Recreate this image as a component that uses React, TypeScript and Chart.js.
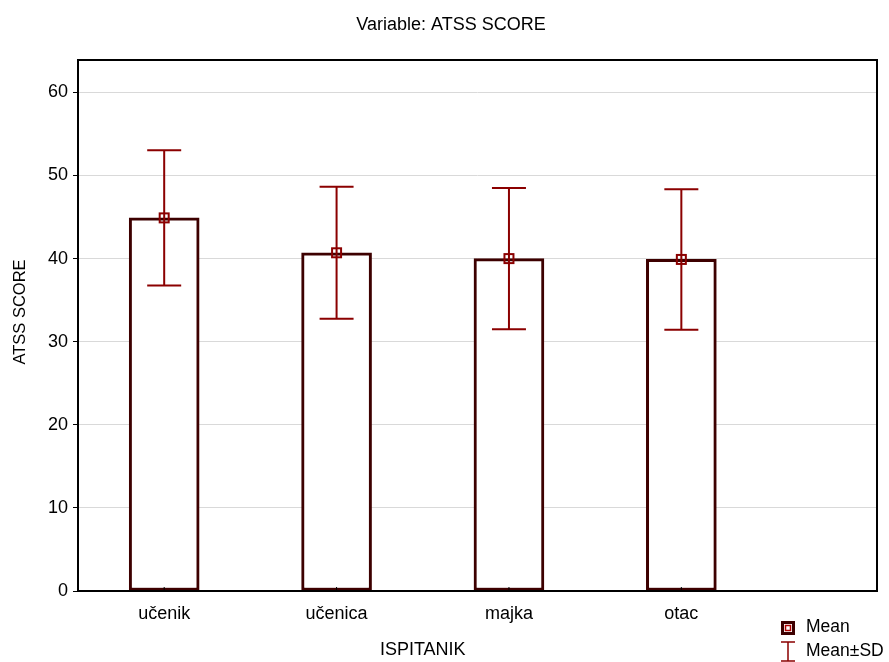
import React, { useEffect, useRef } from "react";
import { Chart, registerables } from "chart.js";

Chart.register(...registerables);

const categories = ["učenik", "učenica", "majka", "otac"];
const means = [44.9, 40.7, 40.0, 39.9];
const sds = [8.15, 7.95, 8.5, 8.45];
const yTicks = [0, 10, 20, 30, 40, 50, 60];

const chartTitle = "Variable: ATSS SCORE";
const xTitle = "ISPITANIK";
const yTitle = "ATSS SCORE";
const legendLabels = ["Mean", "Mean±SD"];

const FONT = "'Liberation Sans', Arial, sans-serif";
const BAR_BORDER = "#3d0000";
const ERR = "#8b0000";

export default function App() {
  const ref = useRef<HTMLCanvasElement>(null);

  useEffect(() => {
    document.body.style.margin = "0";
    const canvas = ref.current!;
    const overlay = {
      id: "overlay",
      afterDatasetsDraw(chart: any) {
        const { ctx, chartArea: ca } = chart;
        const x = chart.scales.x;
        const y = chart.scales.y;
        ctx.save();
        means.forEach((m, i) => {
          const px = x.getPixelForValue(i + 1);
          const top = y.getPixelForValue(m + sds[i]);
          const bot = y.getPixelForValue(m - sds[i]);
          const my = y.getPixelForValue(m);
          ctx.strokeStyle = ERR;
          ctx.lineWidth = 2;
          ctx.beginPath();
          ctx.moveTo(px, top);
          ctx.lineTo(px, bot);
          ctx.moveTo(px - 17, top);
          ctx.lineTo(px + 17, top);
          ctx.moveTo(px - 17, bot);
          ctx.lineTo(px + 17, bot);
          ctx.stroke();
          ctx.strokeRect(px - 4.5, my - 4.5, 9, 9);
          ctx.strokeStyle = "#000";
          ctx.lineWidth = 1;
          ctx.beginPath();
          ctx.moveTo(px, ca.bottom);
          ctx.lineTo(px, ca.bottom - 4);
          ctx.stroke();
        });
        ctx.strokeStyle = "#000";
        ctx.lineWidth = 2;
        ctx.strokeRect(ca.left, ca.top, ca.right - ca.left, ca.bottom - ca.top);

        ctx.fillStyle = "#000";
        ctx.textBaseline = "middle";
        ctx.textAlign = "center";
        ctx.font = `18px ${FONT}`;
        ctx.fillText(chartTitle, 451, 25);
        const xc = (x.getPixelForValue(1) + x.getPixelForValue(categories.length)) / 2;
        ctx.fillText(xTitle, xc, 650);
        ctx.save();
        ctx.font = `16.5px ${FONT}`;
        ctx.translate(20, 312);
        ctx.rotate(-Math.PI / 2);
        ctx.fillText(yTitle, 0, 0);
        ctx.restore();

        ctx.strokeStyle = BAR_BORDER;
        ctx.lineWidth = 3;
        ctx.strokeRect(782.5, 622.5, 11, 11);
        ctx.strokeStyle = "#b00000";
        ctx.lineWidth = 1.5;
        ctx.strokeRect(785.5, 625.5, 5, 5);
        ctx.strokeStyle = ERR;
        ctx.lineWidth = 1.5;
        ctx.beginPath();
        ctx.moveTo(788, 642);
        ctx.lineTo(788, 661);
        ctx.moveTo(781, 642);
        ctx.lineTo(795, 642);
        ctx.moveTo(781, 661);
        ctx.lineTo(795, 661);
        ctx.stroke();
        ctx.textAlign = "left";
        ctx.font = `17.5px ${FONT}`;
        ctx.fillText(legendLabels[0], 806, 627);
        ctx.fillText(legendLabels[1], 806, 651);
        ctx.restore();
      },
    };

    const chart = new Chart(canvas, {
      type: "bar",
      data: {
        datasets: [
          {
            label: "Mean",
            data: means.map((m, i) => ({ x: i + 1, y: m })),
            backgroundColor: "#ffffff",
            borderColor: BAR_BORDER,
            borderWidth: 3,
            borderSkipped: false,
            barThickness: 70,
          },
        ],
      },
      options: {
        responsive: false,
        animation: false,
        devicePixelRatio: 1,
        layout: { padding: { top: 60, right: 12, left: 0, bottom: 0 } },
        plugins: {
          legend: { display: false },
          title: { display: false },
          tooltip: { enabled: false },
        },
        scales: {
          x: {
            type: "linear",
            min: 0.5,
            max: 5.135,
            offset: false,
            grid: { display: false, drawTicks: false, offset: false },
            border: { display: false },
            afterBuildTicks: (s: any) => {
              s.ticks = categories.map((_, i) => ({ value: i + 1 }));
            },
            afterFit: (s: any) => {
              s.height = 71;
              s.paddingLeft = 0;
              s.paddingRight = 0;
            },
            ticks: {
              autoSkip: false,
              maxRotation: 0,
              padding: 12,
              color: "#000",
              font: { family: FONT, size: 18 },
              callback: (v: any) => categories[Math.round(Number(v)) - 1] ?? "",
            },
          },
          y: {
            type: "linear",
            min: 0,
            max: 63.9,
            afterBuildTicks: (s: any) => {
              s.ticks = yTicks.map((v) => ({ value: v }));
            },
            afterFit: (s: any) => {
              s.width = 78;
            },
            grid: {
              color: "#d9d9d9",
              lineWidth: 1,
              tickColor: "#000",
              tickLength: 5,
            },
            border: { display: false },
            ticks: {
              padding: 5,
              color: "#000",
              font: { family: FONT, size: 18 },
            },
          },
        },
      },
      plugins: [overlay],
    } as any);
    return () => chart.destroy();
  }, []);

  return <canvas ref={ref} width={889} height={662} style={{ display: "block" }} />;
}
